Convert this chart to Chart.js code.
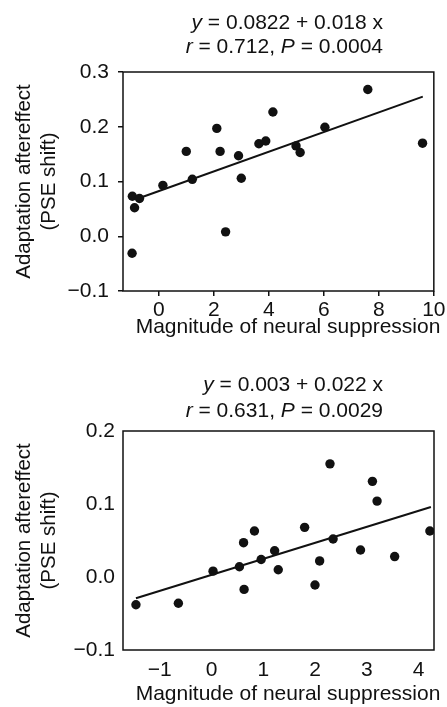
<!DOCTYPE html>
<html>
<head>
<meta charset="utf-8">
<script src="https://cdn.jsdelivr.net/npm/chart.js@4"></script>
<style>
  body { margin: 0; background: #fff; }
  .plot { position: absolute; left: 0; width: 447px; }
  canvas { display: block; }
</style>
</head>
<body>
<div class="plot" style="top:0;height:345px;"><canvas id="topChart" width="447" height="345"></canvas></div>
<div class="plot" style="top:350px;height:357px;"><canvas id="botChart" width="447" height="357"></canvas></div>
<script>
// ── top panel data ──
const topX = [-0.97, -0.96, -0.88, -0.70, 0.15, 1.0, 1.22, 2.11, 2.23, 2.43, 2.90, 3.0, 3.64, 3.89, 4.15, 4.99, 5.14, 6.04, 7.6, 9.59];
const topY = [-0.031, 0.073, 0.052, 0.069, 0.093, 0.155, 0.104, 0.197, 0.155, 0.008, 0.147, 0.106, 0.169, 0.174, 0.227, 0.165, 0.153, 0.199, 0.268, 0.170];
const topFitX = [-0.75, 9.6];
const topFitY = [0.069, 0.255];
const topXTicks = [0, 2, 4, 6, 8, 10];
const topYTicks = [-0.1, 0, 0.1, 0.2, 0.3];
const topYLabels = ['\u22120.1', '0.0', '0.1', '0.2', '0.3'];
const topEq = [[['y', true], [' = 0.0822 + 0.018 x', false]],
               [['r', true], [' = 0.712, ', false], ['P', true], [' = 0.0004', false]]];

// ── bottom panel data ──
const botX = [-1.46, -0.64, 0.03, 0.54, 0.62, 0.63, 0.83, 0.96, 1.22, 1.29, 1.80, 2.0, 2.09, 2.29, 2.35, 2.88, 3.11, 3.20, 3.54, 4.22];
const botY = [-0.038, -0.036, 0.008, 0.014, 0.047, -0.017, 0.063, 0.024, 0.036, 0.010, 0.068, -0.011, 0.022, 0.155, 0.052, 0.037, 0.131, 0.104, 0.028, 0.063];
const botFitX = [-1.46, 4.24];
const botFitY = [-0.029, 0.096];
const botXTicks = [-1, 0, 1, 2, 3, 4];
const botXLabels = ['\u22121', '0', '1', '2', '3', '4'];
const botYTicks = [-0.1, 0, 0.1, 0.2];
const botYLabels = ['\u22120.1', '0.0', '0.1', '0.2'];
const botEq = [[['y', true], [' = 0.003 + 0.022 x', false]],
               [['r', true], [' = 0.631, ', false], ['P', true], [' = 0.0029', false]]];

const xTitle = 'Magnitude of neural suppression';
const yTitle = ['Adaptation aftereffect', '(PSE shift)'];

const FAM = '"Liberation Sans", Arial, Helvetica, sans-serif';
const FS = 21;
const INK = '#111';

const boxPlugin = {
  id: 'box',
  afterDraw(c) {
    const a = c.chartArea, ctx = c.ctx;
    ctx.save();
    ctx.strokeStyle = INK;
    ctx.lineWidth = 1.5;
    ctx.strokeRect(a.left, a.top, a.right - a.left, a.bottom - a.top);
    ctx.restore();
  }
};

// equation lines (right aligned, italic symbols) + x axis title
const textPlugin = {
  id: 'txt',
  afterDraw(c, args, opts) {
    const ctx = c.ctx;
    ctx.save();
    ctx.fillStyle = INK;
    ctx.textBaseline = 'middle';
    ctx.textAlign = 'left';
    opts.lines.forEach((segs, li) => {
      let w = 0;
      segs.forEach(s => { ctx.font = (s[1] ? 'italic ' : '') + FS + 'px ' + FAM; w += ctx.measureText(s[0]).width; });
      let x = opts.right - w;
      segs.forEach(s => {
        ctx.font = (s[1] ? 'italic ' : '') + FS + 'px ' + FAM;
        ctx.fillText(s[0], x, opts.ys[li]);
        x += ctx.measureText(s[0]).width;
      });
    });
    ctx.font = FS + 'px ' + FAM;
    ctx.textAlign = 'center';
    ctx.fillText(xTitle, opts.xtX, opts.xtY);
    ctx.restore();
  }
};

function pts(xs, ys) { return xs.map((x, i) => ({ x: x, y: ys[i] })); }

function makeChart(id, cfg) {
  const grid = cfg.ticks
    ? { display: true, drawOnChartArea: false, drawTicks: true, tickLength: 5, color: INK, lineWidth: 1.5 }
    : { display: false, drawTicks: false };
  return new Chart(document.getElementById(id).getContext('2d'), {
    type: 'scatter',
    data: {
      datasets: [
        { data: pts(cfg.x, cfg.y), backgroundColor: INK, borderWidth: 0, pointRadius: 4.7 },
        { data: pts(cfg.fitX, cfg.fitY), showLine: true, borderColor: INK, borderWidth: 2, pointRadius: 0 }
      ]
    },
    options: {
      responsive: false,
      animation: false,
      layout: { padding: { top: cfg.padTop, right: 13, left: 0, bottom: 0 } },
      plugins: {
        legend: { display: false },
        tooltip: { enabled: false },
        txt: { lines: cfg.eq, ys: cfg.eqY, right: 383, xtX: 288, xtY: cfg.xtY }
      },
      scales: {
        x: {
          type: 'linear', min: cfg.xMin, max: cfg.xMax,
          border: { display: false },
          grid: grid,
          afterBuildTicks: s => { s.ticks = cfg.xTicks.map(v => ({ value: v })); },
          afterFit: s => { s.height = cfg.xH; },
          ticks: {
            color: INK, padding: cfg.xPad, maxRotation: 0, autoSkip: false,
            font: { family: FAM, size: FS },
            callback: (v, i) => cfg.xLabels ? cfg.xLabels[i] : String(v)
          }
        },
        y: {
          type: 'linear', min: cfg.yMin, max: cfg.yMax,
          border: { display: false },
          grid: grid,
          afterBuildTicks: s => { s.ticks = cfg.yTicks.map(v => ({ value: v })); },
          afterFit: s => { s.width = 123; },
          ticks: {
            color: INK, padding: cfg.yPad, autoSkip: false,
            font: { family: FAM, size: FS },
            callback: (v, i) => cfg.yLabels[i]
          },
          title: {
            display: true, text: yTitle, color: INK,
            font: { family: FAM, size: 20.5, lineHeight: 1.22 },
            padding: { top: 11.5, bottom: 0 }
          }
        }
      }
    },
    plugins: [boxPlugin, textPlugin]
  });
}

makeChart('topChart', {
  x: topX, y: topY, fitX: topFitX, fitY: topFitY,
  xMin: -1.3, xMax: 10, yMin: -0.1, yMax: 0.3,
  xTicks: topXTicks, yTicks: topYTicks, yLabels: topYLabels,
  ticks: true, padTop: 72, xH: 54, xPad: 1.5, yPad: 9, xtY: 327.5,
  eq: topEq, eqY: [23, 47.5]
});

makeChart('botChart', {
  x: botX, y: botY, fitX: botFitX, fitY: botFitY,
  xMin: -1.71, xMax: 4.3, yMin: -0.1, yMax: 0.2,
  xTicks: botXTicks, xLabels: botXLabels, yTicks: botYTicks, yLabels: botYLabels,
  ticks: false, padTop: 81, xH: 57, xPad: 7.5, yPad: 8, xtY: 344.5,
  eq: botEq, eqY: [35, 61.5]
});
</script>
</body>
</html>
